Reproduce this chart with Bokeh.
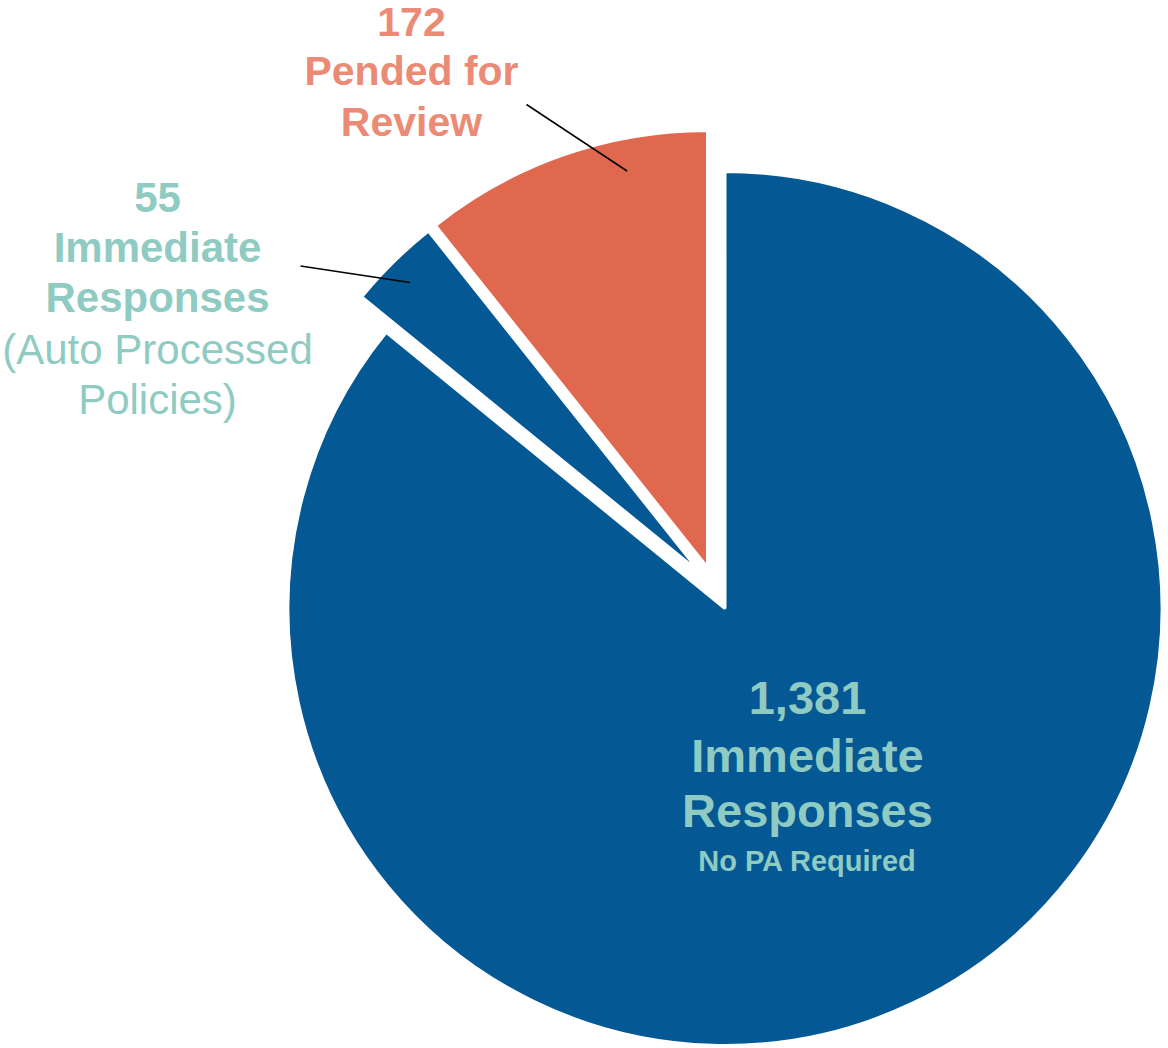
import math
from bokeh.plotting import figure
from bokeh.models import Range1d, ColumnDataSource
from bokeh.embed import file_html
from bokeh.resources import INLINE
from bokeh.core.properties import value

# ---- data ----
categories = ["Immediate Responses", "Immediate Responses", "Pended for Review"]
counts = [1381, 55, 172]
sublabels = ["No PA Required", "(Auto Processed Policies)", ""]

# ---- style / layout ----
slice_colors = ["#045894", "#045894", "#E0684F"]
text_colors = ["#8FCBC2", "#8FCBC2", "#EB8B76"]
FONT = "Liberation Sans"
CX, CY, R = 724.5, -608.0, 437.0
# explosion offsets of each slice (layout)
offsets = [(0.0, 0.0), (-24.5, 35.5), (-17.5, 41.0)]
BASE_CORR = 0.41  # baseline correction (fraction of font size)

W, H = 1168, 1048
p = figure(width=W, height=H, x_range=Range1d(0, W), y_range=Range1d(-H, 0),
           output_backend="svg", toolbar_location=None, min_border=0,
           outline_line_color=None, background_fill_color="white",
           border_fill_color="white")
p.axis.visible = False
p.xgrid.visible = False
p.ygrid.visible = False

total = float(sum(counts))
cum = 0.0
xs, ys, sa, ea = [], [], [], []
for c, (dx, dy) in zip(counts, offsets):
    t1 = cum / total * 2 * math.pi
    cum += c
    t2 = cum / total * 2 * math.pi
    xs.append(CX + dx)
    ys.append(CY + dy)
    sa.append(math.pi / 2 - t1)
    ea.append(math.pi / 2 - t2)

src = ColumnDataSource(dict(x=xs, y=ys, start=sa, end=ea, color=slice_colors))
p.wedge(x="x", y="y", radius=R, start_angle="start", end_angle="end",
        direction="clock", fill_color="color", line_color="white", line_width=3,
        source=src)

# leader lines (layout)
p.segment(x0=[526, 300], y0=[-104, -265.5], x1=[626.5, 409.5], y1=[-170.5, -282],
          line_color="black", line_width=1.5)

def add_text(txt, x, base, size, bold, color):
    y = -base + BASE_CORR * size
    p.text(x=[x], y=[y], text=[txt], text_align="center", text_baseline="alphabetic",
           text_font=value(FONT), text_font_size=f"{size}px",
           text_font_style="bold" if bold else "normal", text_color=color)

# big slice label
add_text(f"{counts[0]:,}", 807, 717, 47, True, text_colors[0])
add_text(categories[0].split()[0], 807, 774, 47, True, text_colors[0])
add_text(categories[0].split()[1], 807, 829, 47, True, text_colors[0])
add_text(sublabels[0], 807, 872, 29, True, text_colors[0])

# 55 label
add_text(f"{counts[1]:,}", 157, 214, 42, True, text_colors[1])
add_text(categories[1].split()[0], 157, 264, 42, True, text_colors[1])
add_text(categories[1].split()[1], 157, 314, 42, True, text_colors[1])
add_text("(Auto Processed", 157, 366, 42, False, text_colors[1])
add_text("Policies)", 157, 416, 42, False, text_colors[1])

# 172 label
add_text(f"{counts[2]:,}", 411, 38, 41, True, text_colors[2])
add_text("Pended for", 411, 87, 41, True, text_colors[2])
add_text("Review", 411, 138, 41, True, text_colors[2])

open("out.html", "w").write(file_html(p, INLINE))
